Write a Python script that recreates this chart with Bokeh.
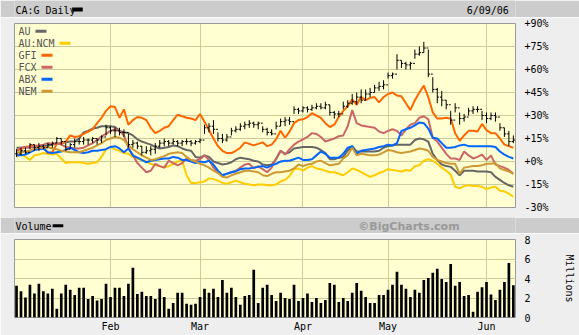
import numpy as np
from bokeh.plotting import figure
from bokeh.layouts import column
from bokeh.models import Range1d, FixedTicker, Label, BoxAnnotation, ColumnDataSource
from bokeh.embed import file_html
from bokeh.resources import INLINE

# ---------------- data ----------------
months = ["Feb", "Mar", "Apr", "May", "Jun"]
month_start_idx = [21, 41, 64, 83, 105]   # trading-day index of first session of each month
n_days = 112

pct_ticks = [-30, -15, 0, 15, 30, 45, 60, 75, 90]
vol_ticks = [0, 2, 4, 6, 8]

# CA:G daily bars (% change)
g_high = [8, 9, 9, 12, 11, 12, 11, 12, 13, 16,
          15, 12, 12, 15, 15, 16, 15, 16, 15, 17,
          24, 23, 22, 22, 21, 18, 14, 13, 10, 10,
          10, 12, 14, 15, 14, 15, 14, 14, 15, 14,
          14, 15, 24, 25, 27, 19, 18, 18, 22, 23,
          25, 26, 27, 26, 26, 23, 22, 21, 26, 28,
          29, 29, 36, 35, 36, 36, 37, 38, 38, 39,
          37, 33, 33, 39, 40, 44, 45, 47, 47, 48,
          50, 52, 53, 58, 58, 70, 66, 65, 65, 73,
          75, 78, 73, 55, 48, 46, 40, 33, 38, 32,
          31, 35, 36, 36, 33, 32, 32, 32, 25, 22,
          20, 17]
g_low = [3, 4, 5, 8, 7, 7, 8, 9, 9, 12,
         11, 7, 8, 9, 11, 11, 11, 12, 11, 12,
         17, 18, 16, 17, 16, 9, 9, 8, 4, 5,
         4, 5, 9, 10, 10, 11, 10, 10, 11, 10,
         11, 12, 18, 19, 18, 13, 12, 13, 17, 19,
         20, 21, 22, 22, 21, 19, 17, 17, 21, 23,
         23, 24, 31, 31, 32, 32, 33, 34, 34, 34,
         30, 28, 29, 34, 35, 37, 37, 38, 40, 42,
         45, 46, 47, 54, 54, 60, 61, 60, 60, 67,
         69, 71, 55, 45, 38, 36, 34, 24, 32, 24,
         26, 30, 31, 32, 27, 25, 27, 26, 20, 16,
         10, 12]
g_close = [5, 7, 6, 11, 9, 10, 9, 11, 12, 15,
           13, 8, 11, 13, 13, 14, 14, 15, 14, 16,
           22, 20, 20, 19, 19, 11, 12, 10, 6, 7,
           8, 10, 12, 13, 12, 13, 12, 13, 13, 12,
           13, 14, 22, 23, 21, 15, 14, 16, 20, 21,
           23, 24, 25, 24, 25, 21, 19, 18, 23, 26,
           27, 26, 34, 33, 35, 34, 35, 36, 35, 37,
           32, 31, 31, 36, 38, 39, 42, 40, 44, 45,
           48, 49, 50, 56, 57, 66, 64, 63, 64, 70,
           71, 74, 57, 47, 42, 40, 37, 27, 35, 28,
           29, 33, 34, 34, 30, 28, 30, 29, 22, 18,
           13, 14]

au = [9, 9, 9, 9.5, 9.5, 10, 10, 10.5, 11, 11.5,
      12, 12.5, 13, 13, 15, 19, 20, 21.5, 22, 23,
      23, 23, 22.5, 20, 19, 18.5, 17, 14.5, 13, 12,
      11, 9.5, 8.5, 9, 9.5, 10.5, 10, 8.5, 7.5, 7,
      3, 2.5, 4, 3, 0, -1, -2, -1.5, -0.5, 1.5,
      2.5, 2, 1.5, 0.5, 0, -2, -2.5, -2, 1.5, 7,
      5, 6, 8.5, 9, 9.5, 9.5, 9.5, 9, 7.5, 5.5,
      1.5, 1.5, 2.5, 3, 7, 10, 6.5, 6.5, 6.5, 6.5,
      6.5, 7, 9, 10, 10.5, 11, 11, 11, 11, 14,
      15, 14.5, 13, 5, 1, -2, -3, -3.5, -6, -9,
      -6, -6, -6, -6.5, -6.5, -6.5, -7, -10, -12, -14,
      -15.5, -16.5]
au_ncm = [3, 5, 3, 1, 4, 4.5, 5.5, 5, 4.5, 5,
          2, -1, -0.5, -0.5, -0.5, -1, -1.5, -1, -0.5, 3,
          8, 9.5, 8, 7, 5.5, 5, 3, 2, 1, 0,
          -1.5, -2.5, -3, -4, -3, -1.5, 0, 0.5, -9, -14,
          -14, -13.5, -13, -11, -11.5, -12.5, -14, -14.5, -13.5, -12.5,
          -13.5, -14.5, -15, -15.5, -15, -15, -15.5, -15.5, -15, -13,
          -12, -9.5, -5, -4.5, -6, -4, -3, -4.5, -5, -6,
          -7, -7, -8, -9, -7, -4.5, -5.5, -7, -8.5, -10,
          -9, -7.5, -6.5, -5, -5.5, -6, -6.5, -5.5, -6, -3,
          -2.5, 0.5, 1.5, 0.5, -1.5, -4, -6, -8.5, -16.5, -17.5,
          -16, -15.5, -16, -16, -16.5, -18, -17, -16.5, -19, -19.5,
          -21, -23]
gfi = [7, 8, 9.5, 10, 10.5, 10, 9.5, 5.5, 6, 11.5,
       12, 13, 17, 16, 16.5, 18, 19.5, 21, 25, 28.5,
       33, 36, 35.5, 28.5, 34, 24, 27, 29, 28.5, 27,
       22, 18.5, 20, 22, 23, 27, 30.5, 29.5, 28.5, 28,
       27, 31, 26, 20.5, 15, 10, 7, 5.5, 5.5, 7,
       9, 12.5, 11.5, 10.5, 11.5, 12.5, 10, 11, 14.5, 20,
       15.5, 19.5, 25, 27, 27.5, 29, 31.5, 30, 28.5, 25,
       22.5, 24, 29, 33, 36, 40.5, 37, 42, 40, 41.5,
       42, 38.5, 42, 44, 45, 43, 42.5, 38, 33.5, 40,
       45, 49.5, 42, 32, 28, 28, 28.5, 28, 18.5, 13.5,
       17, 20, 20, 19.5, 24.5, 20.5, 18.5, 18.5, 15, 11,
       10, 9]
fcx = [7, 9, 9.5, 9, 10, 10.5, 11, 12, 11.5, 12,
       11, 9.5, 9, 8.5, 8.5, 9, 10.5, 12, 14, 16.5,
       18, 20, 21, 20, 17, 9, 4, -1, -4, -7,
       -6, -1.5, -3, -4, 0.5, -1, -2.5, -1, 2, 1,
       0.5, 1.5, 4, 1, -4, -7, -9, -8, -7, -6,
       -4, -2, -1.5, -4.5, -3, -5, -7, -4, 2, 7,
       4.5, 8, 11, 13, 14.5, 16, 18.5, 18, 16, 13,
       14, 15, 16.5, 17, 23, 33.5, 25, 23.5, 23, 22.5,
       22, 19.5, 18.5, 20, 21, 20, 17, 21, 24, 25,
       28.5, 29.5, 27.5, 15.5, 13, 9, 5, 2, 2, 1,
       6.5, 4, 2, 3, 4.5, 1, 4, -2, -3, -4,
       -5.5, -8]
abx = [4, 4, 4.5, 6, 7.5, 8, 8.5, 6, 5.5, 6,
       6.5, 7.5, 9, 7.5, 6, 5.5, 6, 7, 7, 7.5,
       8, 9.5, 10, 8.5, 6, 8.5, 4, 2.5, 1, -0.5,
       0.5, 1, 1.5, 2, 2, 3, 2.5, 1, 1, 0,
       -1, 0, -0.5, 0.5, -2, -6, -9, -8, -7, -6.5,
       -5, -4.5, -4.5, -4, -3.5, -3, -4, -2.5, -1.5, 0,
       0.5, 0.5, 1.5, 2.5, 1, 1, 1.5, 4, 6.5, 5,
       2.5, 2.5, 2.5, 5, 9, 10, 5, 7, 7.5, 8,
       8.5, 9.5, 10, 11, 10.5, 12, 20, 21, 22, 23.5,
       25.5, 25, 21.5, 15.5, 15, 12, 9, 9, 9.5, 10.5,
       11, 10, 10, 10, 10, 10, 10, 9.5, 6.5, 4.5,
       3, 2]
nem = [6, 6, 6.5, 7, 8.5, 9, 9, 9.5, 8.5, 8,
       7, 6.5, 6, 6, 6, 7, 8, 9, 10.5, 12,
       14, 15, 16, 15.5, 14, 10.5, 8, 6, 4, 2.5,
       1, 1.5, 2.5, 3.5, 5, 5.5, 6, 5.5, 3, 1,
       0, -1.5, -2.5, -4, -6, -7.5, -10, -10.5, -9, -8,
       -7, -6, -6, -6.5, -7, -9, -9.5, -8, -7, -7,
       -6.5, -6, -4.5, -2, -3, -2, -1.5, 0, 0.5, -1,
       -2.5, -2, -1.5, 2, 4, 9, 4, 5, 4.5, 4,
       4, 4.5, 6, 7.5, 7, 6, 5.5, 6, 6.5, 7.5,
       8.5, 8, 7, 3, 1, 0, -1, -1.5, -1.5, -8,
       -4, -3.5, -3, -3, -2.5, -1.5, -1.5, -1, -4.5, -5.5,
       -6.5, -8]

# volume, millions of shares
volume = [3.25, 2.7, 2.05, 3.35, 2.45, 3.45, 2.7, 2.45, 2.95, 0.9,
          2.45, 3.35, 2.85, 2.3, 3.05, 3.05, 1.9, 2.2, 1.75, 1.9,
          3.45, 2.1, 3.05, 3.05, 2.2, 3.45, 5.1, 2.4, 2.65, 2.2,
          2.2, 1.9, 2.95, 2.1, 0.9, 1.5, 2.55, 2.55, 1.4, 1.3,
          1.4, 2.1, 2.95, 2.55, 2.95, 2.1, 3.85, 2.55, 3.05, 2.1,
          1.3, 2.2, 2.3, 4.9, 1.5, 3.05, 3.35, 2.3, 1.7, 2.55,
          2.0, 1.9, 3.35, 1.7, 2.0, 2.45, 1.6, 2.0, 1.5, 1.8,
          3.55, 3.35, 1.6, 2.0, 1.7, 2.55, 3.55, 2.75, 2.1, 1.5,
          1.5, 2.3, 2.3, 2.85, 3.35, 4.7, 3.35, 2.95, 2.1, 2.85,
          2.55, 3.85, 4.05, 4.6, 5.0, 3.95, 3.65, 5.5, 3.25, 3.65,
          2.2, 2.3, 0.6, 2.65, 3.1, 3.65, 2.35, 1.8, 2.85, 3.65,
          5.6, 3.3]

series_names = ["AU", "AU:NCM", "GFI", "FCX", "ABX", "NEM"]
series_colors = ["#666666", "#ffcc00", "#ff6600", "#cc6666", "#0066ff", "#cc9933"]
series_values = [au, au_ncm, gfi, fcx, abx, nem]

# ---------------- style ----------------
W = 579
BG = "#eeeeee"
BAND = "#cccccc"
FRAME_BG = "#ffffd2"
GRID = "#cccc99"
MONO = "DejaVu Sans Mono"
FS = "10px"
LEFT = 14     # left border of every panel, so all frames start at the same x

x = np.arange(n_days)
close = np.array(g_close, dtype=float)
prev_close = np.concatenate([[close[0]], close[:-1]])
src = ColumnDataSource(dict(x=x, hi=g_high, lo=g_low, cl=close, op=prev_close,
                            xr=x + 0.4, xl=x - 0.4, vol=volume,
                            **{f"s{i}": v for i, v in enumerate(series_values)}))

x_rng = Range1d(-0.45, 111.48)


def header(height):
    # a grey band; frame spans canvas x LEFT..W, ranges are pixel-like (y pointing down)
    h = figure(width=W, height=height, x_range=Range1d(LEFT, W), y_range=Range1d(height, 0),
               output_backend="svg", toolbar_location=None,
               x_axis_location=None, y_axis_location=None,
               min_border_left=LEFT, min_border_right=0, min_border_top=0, min_border_bottom=0,
               background_fill_color=BAND, border_fill_color=BAND, outline_line_color=None)
    h.xgrid.grid_line_color = None
    h.ygrid.grid_line_color = None
    return h


def box(fig, left, right, top, bottom, color):
    fig.add_layout(BoxAnnotation(left=left, right=right, top=top, bottom=bottom,
                                 fill_color=color, fill_alpha=1, line_color=None))


def text(fig, x0, y0, s, **kw):
    opts = dict(text_font=MONO, text_font_size=FS, text_color="black", text_baseline="middle")
    opts.update(kw)
    fig.add_layout(Label(x=x0, y=y0, text=s, **opts))


def style_right_axis(ax, ticks):
    ax.ticker = FixedTicker(ticks=ticks)
    ax.axis_line_color = None
    ax.major_tick_line_color = None
    ax.minor_tick_line_color = None
    ax.major_tick_out = 0
    ax.major_label_standoff = 9
    ax.major_label_text_font = MONO
    ax.major_label_text_font_size = FS
    ax.major_label_text_color = "black"


# header 1 (canvas rows 0-17)
h1 = header(17)
text(h1, 15, 9.5, "CA:G Daily")
box(h1, 79, 91, 7, 11, "black")
text(h1, 524, 9.5, "6/09/06")

# price panel (canvas rows 17-217)
p = figure(width=W, height=200, x_range=x_rng, y_range=Range1d(-30, 90),
           output_backend="svg", toolbar_location=None,
           x_axis_location=None, y_axis_location="right",
           min_border_left=LEFT, min_border_right=64, min_border_top=6, min_border_bottom=10,
           background_fill_color=FRAME_BG, border_fill_color=BG,
           outline_line_color="#999999")
p.xgrid.ticker = FixedTicker(ticks=month_start_idx)
p.xgrid.grid_line_color = GRID
p.ygrid.grid_line_color = GRID
style_right_axis(p.yaxis[0], pct_ticks)
p.yaxis.major_label_overrides = {t: f"{t:+d}%" for t in pct_ticks}

for i, (name, col) in enumerate(zip(series_names, series_colors)):
    p.line("x", f"s{i}", source=src, line_color=col, line_width=2)

p.segment(x0="x", y0="lo", x1="x", y1="hi", source=src, line_color="black", line_width=1)
p.segment(x0="xl", y0="op", x1="x", y1="op", source=src, line_color="black", line_width=1)
p.segment(x0="x", y0="cl", x1="xr", y1="cl", source=src, line_color="black", line_width=1)

# legend (text then swatch), frame-relative screen units
for k, (name, col) in enumerate(zip(series_names, series_colors)):
    yc = 176.3 - k * 12
    p.add_layout(Label(x=4, y=yc, x_units="screen", y_units="screen", text=name,
                       text_font=MONO, text_font_size=FS, text_color="#555555",
                       text_baseline="middle"))
    left = 4 + 6 * len(name) + 5
    p.add_layout(BoxAnnotation(left=left, right=left + 11, bottom=yc - 1.5, top=yc + 1.5,
                               left_units="screen", right_units="screen",
                               bottom_units="screen", top_units="screen",
                               fill_color=col, fill_alpha=1, line_color=None))

# header 2 (canvas rows 217-233)
h2 = header(16)
text(h2, 15, 9, "Volume")
box(h2, 57, 69, 6.7, 9.7, "black")
text(h2, 516, 9, "\u00a9BigCharts.com", text_font="DejaVu Sans", text_font_style="bold",
     text_font_size="11px", text_color="#999999", text_align="right")

# volume panel (canvas rows 233-335)
v = figure(width=W, height=102, x_range=x_rng, y_range=Range1d(0, 8),
           output_backend="svg", toolbar_location=None, y_axis_location="right",
           min_border_left=LEFT, min_border_right=64, min_border_top=6, min_border_bottom=18,
           background_fill_color=FRAME_BG, border_fill_color=BG,
           outline_line_color="#999999")
v.vbar(x="x", top="vol", width=0.6, source=src, fill_color="black", line_color=None)
v.xgrid.ticker = FixedTicker(ticks=month_start_idx)
v.xgrid.grid_line_color = GRID
v.ygrid.grid_line_color = GRID
v.xaxis.ticker = FixedTicker(ticks=month_start_idx)
v.xaxis.major_label_overrides = dict(zip(month_start_idx, months))
v.xaxis.axis_line_color = None
v.xaxis.major_tick_line_color = None
v.xaxis.minor_tick_line_color = None
v.xaxis.major_tick_out = 0
v.xaxis.major_label_standoff = 3
v.xaxis.major_label_text_font = MONO
v.xaxis.major_label_text_font_size = FS
v.xaxis.major_label_text_color = "black"
style_right_axis(v.yaxis[0], vol_ticks)
v.yaxis.axis_label = "Millions"
v.yaxis.axis_label_text_font = MONO
v.yaxis.axis_label_text_font_size = FS
v.yaxis.axis_label_text_font_style = "normal"
v.yaxis.axis_label_text_color = "black"
v.yaxis.axis_label_standoff = 30

layout = column(h1, p, h2, v, spacing=0)
open("out.html", "w").write(file_html(layout, INLINE))
